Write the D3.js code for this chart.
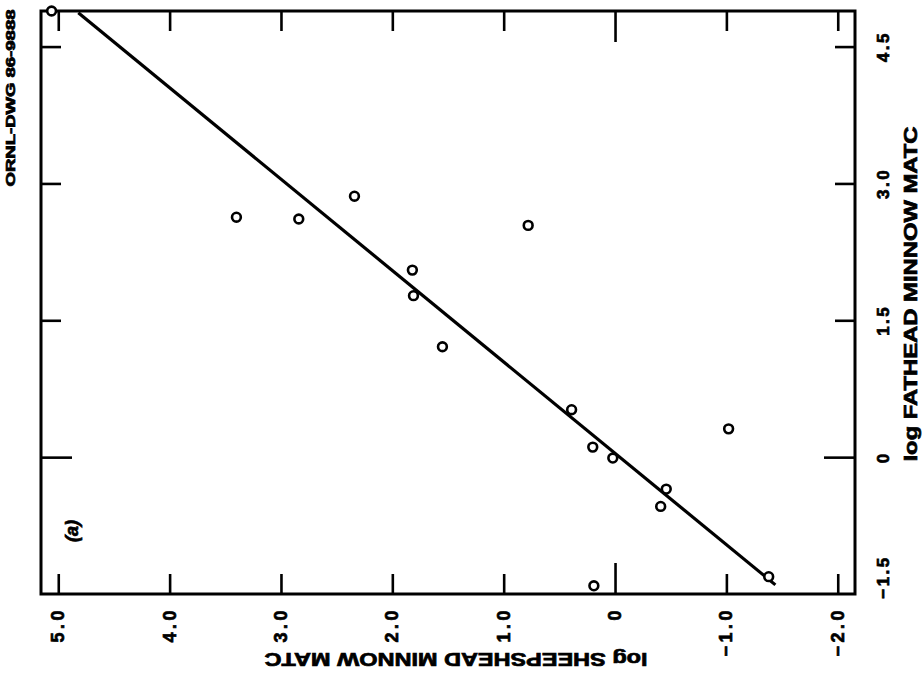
<!DOCTYPE html>
<html>
<head>
<meta charset="utf-8">
<script src="https://cdn.jsdelivr.net/npm/d3@7"></script>
<style>
  html, body { margin: 0; padding: 0; background: #fff; }
  svg { display: block; }
  text { font-family: "Liberation Sans", Arial, sans-serif; font-weight: bold; fill: #000; stroke: #000; stroke-width: 0.7px; }
</style>
</head>
<body>
<svg id="chart" width="922" height="681"></svg>
<script>
// ---- data ----
const sheepshead = [5.06, 3.40, 2.84, 2.34, 1.82, 1.81, 1.55, 0.78, 0.39, 0.20, 0.02, -0.46, -0.41, -1.02, -1.38, 0.19];
const fathead    = [4.89, 2.63, 2.61, 2.86, 2.05, 1.77, 1.21, 2.54, 0.52, 0.11, -0.01, -0.35, -0.54, 0.31, -1.31, -1.41];
const fitSheepshead = [4.82, -1.44];
const fitFathead    = [4.87, -1.40];
const sheepsheadTicks  = [5, 4, 3, 2, 1, 0, -1, -2];
const sheepsheadLabels = ["5.0", "4.0", "3.0", "2.0", "1.0", "0", "\u22121.0", "\u22122.0"];
const fatheadTicks  = [-1.5, 0, 1.5, 3.0, 4.5];
const fatheadLabels = ["\u22121.5", "0", "1.5", "3.0", "4.5"];
const sheepsheadTitle = "log SHEEPSHEAD MINNOW MATC";
const fatheadTitle = "log FATHEAD MINNOW MATC";
const drawingNo = "ORNL-DWG 86-9888";
const panelLabel = "(a)";

(function () {
// ---- layout ----
const pL = 41, pR = 855, pT = 11, pB = 594;
const svg = d3.select("#chart");
svg.append("rect").attr("width", 922).attr("height", 681).attr("fill", "#fff");

const x = d3.scaleLinear().domain([5.155, -2.155]).range([pL, pR]);
const y = d3.scaleLinear().domain([-1.5, 4.89]).range([pB, pT]);

const tickLen = v => (v === 0 ? 31 : 20);

function styleAxis(g) {
  g.select(".domain").remove();
  g.selectAll(".tick line").attr("stroke", "#000").attr("stroke-width", 2.6);
  g.selectAll(".tick text").remove();
}
const gB = svg.append("g").attr("transform", `translate(0,${pB})`)
  .call(d3.axisBottom(x).tickValues(sheepsheadTicks).tickSizeOuter(0).tickFormat(""));
styleAxis(gB);
gB.selectAll(".tick line").attr("y2", d => -tickLen(d));

const gT = svg.append("g").attr("transform", `translate(0,${pT})`)
  .call(d3.axisTop(x).tickValues(sheepsheadTicks).tickSizeOuter(0).tickFormat(""));
styleAxis(gT);
gT.selectAll(".tick line").attr("y2", d => tickLen(d));

const gL = svg.append("g").attr("transform", `translate(${pL},0)`)
  .call(d3.axisLeft(y).tickValues(fatheadTicks.filter(v => v > -1.5)).tickSizeOuter(0).tickFormat(""));
styleAxis(gL);
gL.selectAll(".tick line").attr("x2", d => tickLen(d));

const gR = svg.append("g").attr("transform", `translate(${pR},0)`)
  .call(d3.axisRight(y).tickValues(fatheadTicks.filter(v => v > -1.5)).tickSizeOuter(0).tickFormat(""));
styleAxis(gR);
gR.selectAll(".tick line").attr("x2", d => -tickLen(d));

// frame
svg.append("rect")
  .attr("x", pL).attr("y", pT)
  .attr("width", pR - pL).attr("height", pB - pT)
  .attr("fill", "none").attr("stroke", "#000").attr("stroke-width", 3);

// fitted line
const line = d3.line().x(d => x(d[0])).y(d => y(d[1]));
svg.append("path")
  .datum(d3.zip(fitSheepshead, fitFathead))
  .attr("d", line)
  .attr("fill", "none").attr("stroke", "#000").attr("stroke-width", 3.2);

// points
svg.append("g").selectAll("circle")
  .data(d3.zip(sheepshead, fathead))
  .join("circle")
  .attr("cx", d => x(d[0])).attr("cy", d => y(d[1]))
  .attr("r", 4.4)
  .attr("fill", "#fff").attr("stroke", "#000").attr("stroke-width", 2.6);

// bottom tick labels (rotated, reading bottom-to-top)
svg.append("g").selectAll("text")
  .data(sheepsheadTicks)
  .join("text")
  .attr("transform", d => `translate(${x(d)},607) rotate(-90)`)
  .attr("text-anchor", "end")
  .attr("dominant-baseline", "central")
  .attr("font-size", 18)
  .attr("letter-spacing", 3.5)
  .text((d, i) => sheepsheadLabels[i]);

// right tick labels
svg.append("g").selectAll("text")
  .data(fatheadTicks)
  .join("text")
  .attr("transform", d => `translate(883,${d === -1.5 ? y(d) - 17 : y(d)}) rotate(-90)`)
  .attr("text-anchor", "middle")
  .attr("dominant-baseline", "central")
  .attr("font-size", 17)
  .attr("letter-spacing", 2.5)
  .text((d, i) => fatheadLabels[i]);

// bottom title (upside-down)
svg.append("text")
  .attr("transform", "translate(456,659) rotate(180)")
  .attr("text-anchor", "middle")
  .attr("dominant-baseline", "central")
  .attr("font-size", 18)
  .attr("textLength", 383).attr("lengthAdjust", "spacingAndGlyphs")
  .text(sheepsheadTitle);

// right title
svg.append("text")
  .attr("transform", "translate(911,294) rotate(-90)")
  .attr("text-anchor", "middle")
  .attr("dominant-baseline", "central")
  .attr("font-size", 18)
  .attr("textLength", 335).attr("lengthAdjust", "spacingAndGlyphs")
  .text(fatheadTitle);

// drawing number
svg.append("text")
  .attr("transform", "translate(11,98) rotate(-90)")
  .attr("text-anchor", "middle")
  .attr("dominant-baseline", "central")
  .attr("font-size", 12)
  .attr("textLength", 177).attr("lengthAdjust", "spacingAndGlyphs")
  .text(drawingNo);

// panel label
svg.append("text")
  .attr("transform", "translate(72,531) rotate(-90)")
  .attr("text-anchor", "middle")
  .attr("dominant-baseline", "central")
  .attr("font-size", 18)
  .attr("font-style", "italic")
  .text(panelLabel);
})();
</script>
</body>
</html>
